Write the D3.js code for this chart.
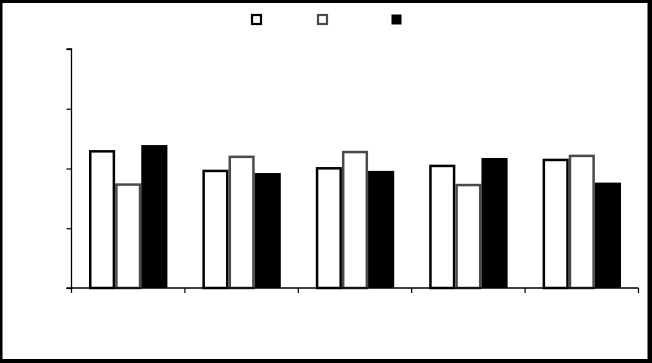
<!DOCTYPE html>
<html>
<head>
<meta charset="utf-8">
<script src="https://cdn.jsdelivr.net/npm/d3@7"></script>
<style>
  html, body { margin: 0; padding: 0; background: #fff; }
  svg { display: block; }
</style>
</head>
<body>
<svg id="chart" width="652" height="363"></svg>
<script>
// Data (the original has no visible text labels)
const categories = ["A", "B", "C", "D", "E"];
const seriesNames = ["S1", "S2", "S3"];
const series1 = [57.7, 49.5, 50.6, 51.6, 54.1];
const series2 = [43.8, 55.4, 57.4, 43.6, 55.8];
const series3 = [59.8, 48.1, 49.0, 54.4, 44.1];
const yTicks = [0, 25, 50, 75, 100];

(function () {
const seriesData = [series1, series2, series3];
const fills = ["#ffffff", "#ffffff", "#000000"];
const strokes = ["#000000", "#4a4a4a", "#000000"];

const svg = d3.select("#chart");
const W = 652, H = 363;

// outer frame (thicker at bottom/right)
svg.append("rect").attr("x", 0).attr("y", 0).attr("width", W).attr("height", H).attr("fill", "#000");
svg.append("rect").attr("x", 2.5).attr("y", 3).attr("width", W - 2.5 - 4.5).attr("height", H - 3 - 4).attr("fill", "#fff");

const mLeft = 71.5, mRight = 638.5, mTop = 49, mBottom = 288;

const x = d3.scaleBand().domain(categories).range([mLeft, mRight]).paddingInner(0).paddingOuter(0);
const y = d3.scaleLinear().domain([0, 100]).range([mBottom, mTop]);
const groupPad = 17.5;
const xs = d3.scaleBand().domain(d3.range(seriesData.length))
  .range([groupPad, x.bandwidth() - groupPad]).padding(0);

// bars
categories.forEach((c, i) => {
  seriesData.forEach((s, j) => {
    const v = s[i];
    const bx = x(c) + xs(j);
    const sw = j === 2 ? 0 : 2.5;
    svg.append("rect")
      .attr("x", bx + sw / 2)
      .attr("y", y(v) + sw / 2)
      .attr("width", xs.bandwidth() - sw)
      .attr("height", mBottom - y(v) - sw / 2)
      .attr("fill", fills[j])
      .attr("stroke", j === 2 ? "none" : strokes[j])
      .attr("stroke-width", sw);
  });
});

// y axis
const yAxis = d3.axisLeft(y).tickValues(yTicks).tickSize(5).tickFormat("");
const gy = svg.append("g").attr("transform", `translate(${mLeft},0)`).call(yAxis);
gy.select(".domain").attr("stroke", "#000").attr("stroke-width", 1.3).attr("d", `M-5,${mTop}H0V${mBottom}H-5`);
gy.selectAll(".tick line").attr("stroke", "#000").attr("stroke-width", 1.2);

// x axis with category boundary ticks
const xAxis = d3.axisBottom(x).tickSize(0).tickFormat("");
const gx = svg.append("g").attr("transform", `translate(0,${mBottom})`).call(xAxis);
gx.select(".domain").attr("stroke", "#000").attr("stroke-width", 1.3).attr("d", `M${mLeft},0H${mRight}`);
gx.selectAll(".tick").remove();
const boundaries = categories.map(c => x(c)).concat([x(categories[categories.length - 1]) + x.bandwidth()]);
gx.selectAll("line.bt").data(boundaries).join("line")
  .attr("class", "bt")
  .attr("x1", d => d).attr("x2", d => d)
  .attr("y1", 0).attr("y2", 5)
  .attr("stroke", "#000").attr("stroke-width", 1.2);

// legend markers (no visible labels in the reference)
const legendX = [256.5, 322.5, 396.5];
const lg = svg.append("g");
seriesNames.forEach((n, j) => {
  lg.append("rect")
    .attr("x", legendX[j] - 4.5)
    .attr("y", 15)
    .attr("width", 9)
    .attr("height", 9)
    .attr("fill", fills[j])
    .attr("stroke", strokes[j])
    .attr("stroke-width", j === 2 ? 1 : 2.2);
});
})();
</script>
</body>
</html>
